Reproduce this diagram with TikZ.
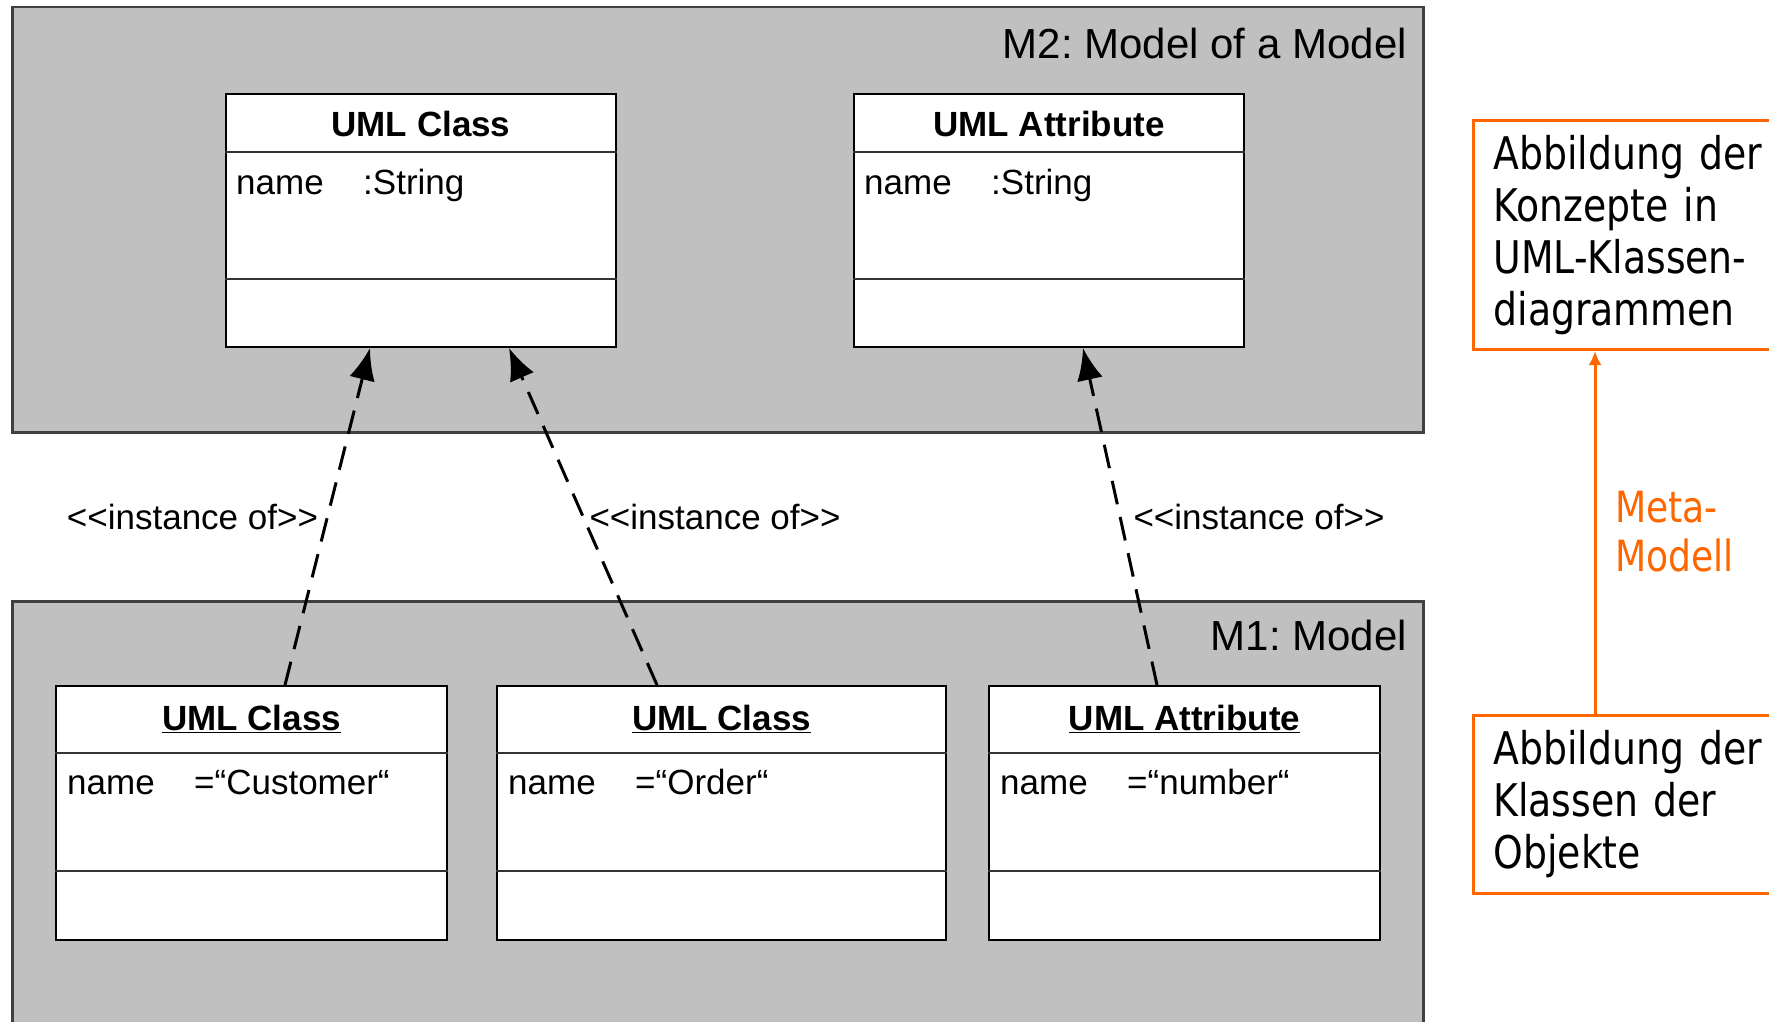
\documentclass[tikz,border=0pt]{standalone}
\usepackage{fontspec}
\newfontfamily\umlfont{Liberation Sans}
\newfontfamily\notefont[FakeStretch=0.84]{DejaVu Sans}
\usepackage{xcolor}
\usepackage{tikz}
\usetikzlibrary{arrows.meta, positioning}
\definecolor{layergray}{RGB}{192,192,192}
\definecolor{noteorange}{RGB}{255,102,0}

\begin{document}
\begin{tikzpicture}[
  x=1pt, y=-1pt,
  layer/.style={rectangle, draw=black!75, line width=2.5pt, fill=layergray, anchor=north west, minimum width=1411pt, inner sep=0pt},
  umlbox/.style={rectangle, draw, line width=2pt, fill=white, anchor=north west, inner sep=0pt, minimum height=254pt},
  divider/.style={draw=black!80, line width=2pt},
  title/.style={font=\umlfont\bfseries\fontsize{35}{42}\selectfont, anchor=base, inner sep=0pt},
  attr/.style={font=\umlfont\fontsize{35}{42}\selectfont, anchor=base west, inner sep=0pt},
  layerlabel/.style={font=\umlfont\fontsize{42}{50}\selectfont, anchor=base east, inner sep=0pt},
  instlabel/.style={font=\umlfont\fontsize{35}{42}\selectfont, inner sep=0pt, solid},
  every edge/.style={draw, line width=3pt, dash pattern=on 24pt off 13pt, -{Latex[length=32pt,width=26pt]}},
  note/.style={rectangle, draw=noteorange, line width=3pt, anchor=north west, text width=300pt, inner xsep=20pt, inner ysep=0pt, align=left, font=\notefont\fontsize{45}{52}\selectfont},
  metaedge/.style={draw=noteorange, line width=3pt, -{Latex[length=14pt,width=13pt]}}
  ]
\clip (0,0) rectangle (1769,1022);

% Layers
\node[layer, minimum height=425pt] (m2) at (11,6) {};
\node[layer, minimum height=440pt] (m1) at (11,600) {};
\node[layerlabel] (m2lbl) at (1407,59) {M2:\ Model of a Model};
\node[layerlabel] (m1lbl) at (1407,650) {M1:\ Model};

% M2 classes
\node[umlbox, minimum width=390pt, minimum height=253pt] (mcls) at (225,93) {};
\node[umlbox, minimum width=390pt, minimum height=253pt] (matt) at (853,93) {};
\draw[divider] ([yshift=-59pt]mcls.north west) -- ([yshift=-59pt]mcls.north east);
\draw[divider] ([yshift=-186pt]mcls.north west) -- ([yshift=-186pt]mcls.north east);
\draw[divider] ([yshift=-59pt]matt.north west) -- ([yshift=-59pt]matt.north east);
\draw[divider] ([yshift=-186pt]matt.north west) -- ([yshift=-186pt]matt.north east);
\node[title] (mclstitle) at ([yshift=-43pt]mcls.north) {UML Class};
\node[title] (matttitle) at ([yshift=-43pt]matt.north) {UML Attribute};
\node[attr] (mclsname) at ([xshift=11pt, yshift=-101pt]mcls.north west) {name};
\node[attr] (mclstype) at ([xshift=138pt, yshift=-101pt]mcls.north west) {:String};
\node[attr] (mattname) at ([xshift=11pt, yshift=-101pt]matt.north west) {name};
\node[attr] (matttype) at ([xshift=138pt, yshift=-101pt]matt.north west) {:String};

% M1 objects
\node[umlbox, minimum width=391pt] (ocust) at (55,685) {};
\node[umlbox, minimum width=449pt] (oorder) at (496,685) {};
\node[umlbox, minimum width=391pt] (onum) at (988,685) {};
\draw[divider] ([yshift=-68pt]ocust.north west) -- ([yshift=-68pt]ocust.north east);
\draw[divider] ([yshift=-186pt]ocust.north west) -- ([yshift=-186pt]ocust.north east);
\draw[divider] ([yshift=-68pt]oorder.north west) -- ([yshift=-68pt]oorder.north east);
\draw[divider] ([yshift=-186pt]oorder.north west) -- ([yshift=-186pt]oorder.north east);
\draw[divider] ([yshift=-68pt]onum.north west) -- ([yshift=-68pt]onum.north east);
\draw[divider] ([yshift=-186pt]onum.north west) -- ([yshift=-186pt]onum.north east);
\node[title] (ocusttitle) at ([yshift=-45pt]ocust.north) {\underline{UML Class}};
\node[title] (oordertitle) at ([yshift=-45pt]oorder.north) {\underline{UML Class}};
\node[title] (onumtitle) at ([yshift=-45pt]onum.north) {\underline{UML Attribute}};
\node[attr] (ocustname) at ([xshift=12pt, yshift=-109pt]ocust.north west) {name};
\node[attr] (ocustval) at ([xshift=139pt, yshift=-109pt]ocust.north west) {=“Customer“};
\node[attr] (oordername) at ([xshift=12pt, yshift=-109pt]oorder.north west) {name};
\node[attr] (oorderval) at ([xshift=139pt, yshift=-109pt]oorder.north west) {=“Order“};
\node[attr] (onumname) at ([xshift=12pt, yshift=-109pt]onum.north west) {name};
\node[attr] (onumval) at ([xshift=139pt, yshift=-109pt]onum.north west) {=“number“};

% Edges
\path ([xshift=230pt]ocust.north west) edge node[instlabel, pos=0.5, anchor=east, xshift=-8pt] (inst1) {<<instance of>>} ([xshift=145pt]mcls.south west);
\path ([xshift=161pt]oorder.north west) edge node[instlabel, pos=0.5, anchor=west, xshift=5pt] (inst2) {<<instance of>>} ([xshift=284pt]mcls.south west);
\path ([xshift=169pt]onum.north west) edge node[instlabel, pos=0.5, anchor=west, xshift=12pt] (inst3) {<<instance of>>} ([xshift=230pt]matt.south west);

% Notes
\node[note, minimum height=229pt] (konzept) at (1472,119) {Abbildung der\\Konzepte in\\UML-Klassen-\\diagrammen};
\node[note, minimum height=178pt] (klassen) at (1472,714) {Abbildung der\\Klassen der\\Objekte};
\draw[metaedge] ([xshift=123pt]klassen.north west) -- ([xshift=123pt]konzept.south west);
\node[align=left, anchor=west, inner sep=0pt, text=noteorange, font=\notefont\fontsize{43}{49}\selectfont] (meta) at (1615,532) {Meta-\\Modell};

\end{tikzpicture}
\end{document}
